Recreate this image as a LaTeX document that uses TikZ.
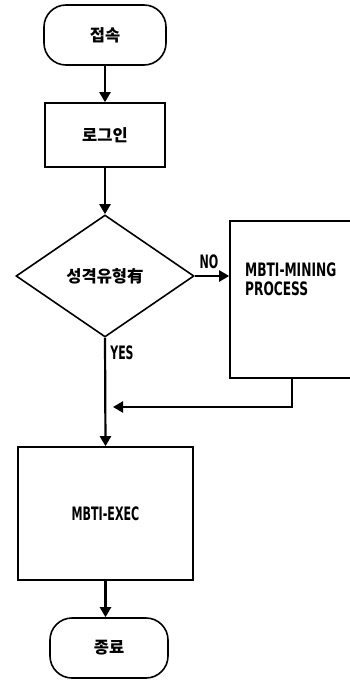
\documentclass[tikz,border=0pt]{standalone}
\usepackage{fontspec}
\setmainfont{DejaVu Sans}
\newfontfamily\latb{DejaVu Sans}
\newfontfamily\cjk{Noto Sans CJK KR}
\usetikzlibrary{shapes.geometric,arrows.meta}
\newcommand{\narrowtxt}[2][0.8]{\scalebox{#1}[1]{#2}}
\tikzset{
  every node/.style={inner sep=0pt},
  shapeline/.style={draw=black, line width=1.6pt, fill=white},
  term/.style={shapeline, rounded corners=22pt, minimum width=#1, minimum height=60pt},
  proc/.style={shapeline},
  dec/.style={shapeline, diamond, minimum width=178pt, minimum height=122pt},
  conn/.style={draw=black, line width=2.2pt, -{Triangle[length=10pt,width=11pt]}},
  kor/.style={font=\cjk\bfseries\fontsize{16.5}{19}\selectfont},
  lat/.style={font=\latb\bfseries\fontsize{18.5}{19}\selectfont},
}
\begin{document}
\begin{tikzpicture}[x=1pt,y=-1pt]
\useasboundingbox (0,0) rectangle (350,682);
\node[term=122pt, kor] (start) at (105,35) {접속};
\node[proc, minimum width=120pt, minimum height=64pt, kor] (login) at (105,135) {로그인};
\node[dec, kor] (dec) at (105,276) {성격유형有};
\node[proc, minimum width=124pt, minimum height=157pt] (mining) at (292,299.5) {};
\node[lat, anchor=north west, align=left] (mtext) at (245,263) {\narrowtxt[0.66]{MBTI-MINING}\\\narrowtxt[0.66]{PROCESS}};
\node[proc, minimum width=175pt, minimum height=133pt, lat] (exec) at (105.5,513.5) {\narrowtxt[0.6]{MBTI-EXEC}};
\node[term=118pt, kor] (end) at (109,648) {종료};
\node[lat] (no) at (209,262) {\narrowtxt[0.6]{NO}};
\node[lat] (yes) at (122,353) {\narrowtxt[0.59]{YES}};
\coordinate (mb) at (292,378);
\coordinate (corner) at (292,407);
\coordinate (ret) at (113,407);
\draw[conn] (start.south) -- (login.north);
\draw[conn] (login.south) -- (dec.north);
\draw[conn] (dec.east) -- (dec.east -| mining.west);
\draw[conn] (dec.south) -- (exec.north);
\draw[conn] (mb) -- (corner) -- (ret);
\draw[conn] (exec.south) -- (exec.south |- end.north);
\end{tikzpicture}
\end{document}
